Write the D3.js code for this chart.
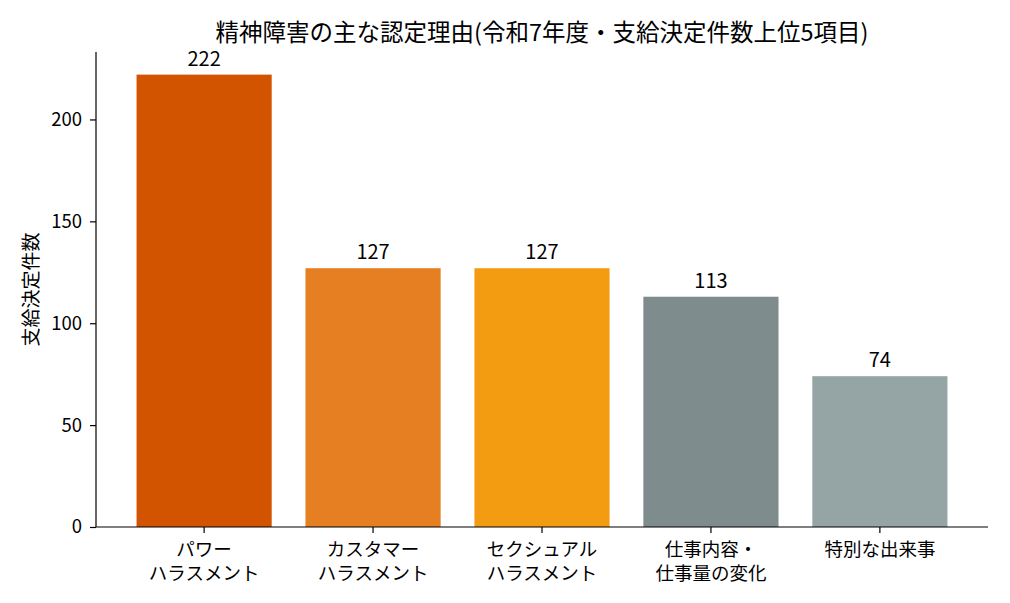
<!DOCTYPE html>
<html lang="ja">
<head>
<meta charset="UTF-8">
<title>精神障害の主な認定理由</title>
<script src="https://d3js.org/d3.v7.min.js"></script>
<style>
  body { margin: 0; background: #fff; }
  text { font-family: "Noto Sans CJK JP", "Noto Sans", sans-serif; fill: #000; }
</style>
</head>
<body>
<div id="chart"></div>
<script>
// データ
const categories = ["パワー\nハラスメント", "カスタマー\nハラスメント", "セクシュアル\nハラスメント", "仕事内容・\n仕事量の変化", "特別な出来事"];
const values = [222, 127, 127, 113, 74];
const colors = ["#d35400", "#e67e22", "#f39c12", "#7f8c8d", "#95a5a6"];
const yTicks = [0, 50, 100, 150, 200];
const title = "精神障害の主な認定理由(令和7年度・支給決定件数上位5項目)";
const yLabel = "支給決定件数";

const W = 1010, H = 603;
const margin = {top: 52, right: 22, bottom: 76, left: 96};

const svg = d3.select("#chart").append("svg")
    .attr("width", W)
    .attr("height", H);

const x = d3.scaleBand()
    .domain(categories)
    .range([margin.left, W - margin.right])
    .paddingInner(0.2)
    .paddingOuter(0.24);

const y = d3.scaleLinear()
    .domain([0, d3.max(values) * 1.05])
    .range([H - margin.bottom, margin.top]);

// 棒
svg.selectAll("rect.bar")
    .data(values)
    .enter().append("rect")
    .attr("class", "bar")
    .attr("x", (d, i) => x(categories[i]))
    .attr("y", d => y(d))
    .attr("width", x.bandwidth())
    .attr("height", d => y(0) - y(d))
    .attr("fill", (d, i) => colors[i]);

// 値ラベル
svg.selectAll("text.val")
    .data(values)
    .enter().append("text")
    .attr("class", "val")
    .attr("x", (d, i) => x(categories[i]) + x.bandwidth() / 2)
    .attr("y", d => y(d) - 9)
    .attr("text-anchor", "middle")
    .style("font-size", "20px")
    .text(d => d);

// 軸
const yAxis = svg.append("g")
    .attr("transform", `translate(${margin.left},0)`)
    .call(d3.axisLeft(y).tickValues(yTicks).tickSize(6).tickPadding(8));
yAxis.select(".domain").attr("d", `M0,${y(0)}V${margin.top}`);

const xAxis = svg.append("g")
    .attr("transform", `translate(0,${H - margin.bottom})`)
    .call(d3.axisBottom(x).tickSize(6).tickPadding(4).tickFormat(""));
xAxis.select(".domain").attr("d", `M${margin.left},0H${W - margin.right}`);

svg.selectAll(".domain, .tick line").attr("stroke", "#000").attr("stroke-width", 1.2);
yAxis.selectAll("text").style("font-size", "18.5px").attr("fill", "#000");

// 横軸ラベル(2行)
xAxis.selectAll(".tick").each(function(d) {
    const t = d3.select(this).append("text")
        .attr("text-anchor", "middle")
        .attr("y", 29)
        .style("font-size", "18.5px");
    d.split("\n").forEach((line, i) => {
        t.append("tspan").attr("x", 0).attr("dy", i === 0 ? 0 : 24).text(line);
    });
});

// タイトル
svg.append("text")
    .attr("x", (margin.left + W - margin.right) / 2)
    .attr("y", 41)
    .attr("text-anchor", "middle")
    .style("font-size", "23.5px")
    .text(title);

// 縦軸タイトル
svg.append("text")
    .attr("transform", `translate(38,${(y(0) + margin.top) / 2}) rotate(-90)`)
    .attr("text-anchor", "middle")
    .style("font-size", "19px")
    .text(yLabel);
</script>
</body>
</html>
